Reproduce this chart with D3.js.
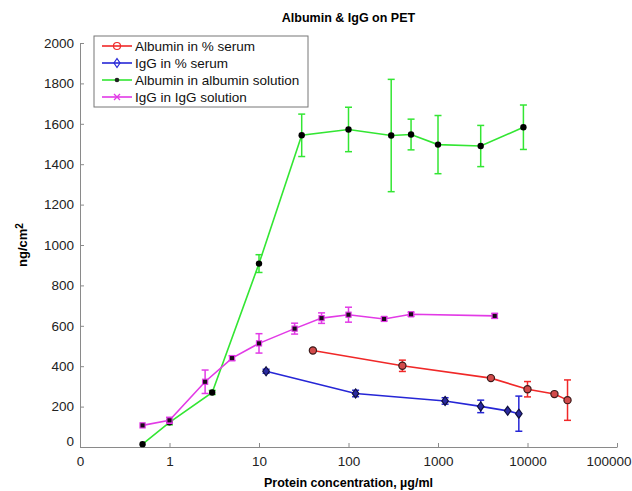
<!DOCTYPE html>
<html>
<head>
<meta charset="utf-8">
<script src="https://cdn.jsdelivr.net/npm/d3@7"></script>
<style>
  body { margin: 0; background: #fff; }
  text { font-family: "Liberation Sans", Arial, sans-serif; }
</style>
</head>
<body>
<script>
// data (x in ug/ml, y in ng/cm2, err = half bar height)
var albSerumX = [40, 400, 3900, 10000, 20000, 28000];
var albSerumY = [478, 402, 341, 286, 262, 232];
var albSerumErr = [0, 28, 0, 38, 0, 100];

var igSerumX = [12, 120, 1200, 3000, 6000, 8000];
var igSerumY = [375, 265, 228, 201, 179, 165];
var igSerumErr = [10, 16, 16, 31, 0, 87];

var albSolX = [0.5, 1, 3, 10, 30, 100, 300, 500, 1000, 3000, 9000];
var albSolY = [14, 122, 270, 908, 1543, 1572, 1542, 1547, 1497, 1490, 1583];
var albSolErr = [0, 12, 10, 44, 105, 110, 278, 76, 144, 102, 110];

var igSolX = [0.5, 1, 2.5, 5, 10, 25, 50, 100, 250, 500, 4300];
var igSolY = [107, 132, 323, 440, 513, 586, 638, 655, 634, 657, 649];
var igSolErr = [0, 15, 58, 12, 48, 27, 26, 37, 10, 10, 12];

var xTicks = [0.1, 1, 10, 100, 1000, 10000, 100000];
var xTickLabels = ["0", "1", "10", "100", "1000", "10000", "100000"];
var yTicks = [0, 200, 400, 600, 800, 1000, 1200, 1400, 1600, 1800, 2000];

var seriesNames = ["Albumin in % serum", "IgG in % serum", "Albumin in albumin solution", "IgG in IgG solution"];

var width = 632, height = 491;
var margin = {top: 43, right: 15, bottom: 44, left: 80};

var svg = d3.select("body").append("svg")
  .attr("width", width)
  .attr("height", height);

svg.append("rect").attr("width", width).attr("height", height).attr("fill", "#fff");

var x = d3.scaleLog()
  .domain([0.1, 100000])
  .range([margin.left, width - margin.right]);

var y = d3.scaleLinear()
  .domain([0, 2000])
  .range([height - margin.bottom, margin.top]);

// axes, ticks pointing inward like matlab
var xAxis = svg.append("g")
  .attr("transform", "translate(0," + (height - margin.bottom) + ")")
  .call(d3.axisBottom(x).tickValues(xTicks)
    .tickFormat(function (d, i) { return xTickLabels[i]; })
    .tickSizeInner(-4).tickSizeOuter(0).tickPadding(9));

var yAxis = svg.append("g")
  .attr("transform", "translate(" + margin.left + ",0)")
  .call(d3.axisLeft(y).tickValues(yTicks)
    .tickFormat(d3.format("d"))
    .tickSizeInner(-4).tickSizeOuter(0).tickPadding(6));

[xAxis, yAxis].forEach(function (a) {
  a.select(".domain").attr("stroke", "#8a8a8a");
  a.selectAll(".tick line").attr("stroke", "#8a8a8a");
  a.selectAll(".tick text").attr("fill", "#222").attr("font-size", 13.5)
    .style("font-family", "Liberation Sans, Arial, sans-serif");
});
// matlab puts the zero labels off the corner
yAxis.selectAll(".tick text").filter(function (d) { return d === 0; }).attr("dy", "-0.1em");
// last x label sits against the right edge of the figure
xAxis.selectAll(".tick text").filter(function (d) { return d === 100000; })
  .attr("text-anchor", "end").attr("x", width - 1 - x(100000));

svg.append("text")
  .attr("x", (margin.left + width - margin.right) / 2)
  .attr("y", 22)
  .attr("text-anchor", "middle")
  .attr("font-size", 12.5)
  .attr("font-weight", "bold")
  .text("Albumin & IgG on PET");

svg.append("text")
  .attr("x", (margin.left + width - margin.right) / 2)
  .attr("y", 487)
  .attr("text-anchor", "middle")
  .attr("font-size", 12.5)
  .attr("font-weight", "bold")
  .text("Protein concentration, \u00b5g/ml");

var yl = svg.append("text")
  .attr("transform", "translate(27," + y(1000) + ") rotate(-90)")
  .attr("text-anchor", "middle")
  .attr("font-size", 13)
  .attr("font-weight", "bold");
yl.append("tspan").text("ng/cm");
yl.append("tspan").attr("dy", "-0.45em").attr("font-size", 10).text("2");

function makeSeries(xs, ys, errs) {
  return xs.map(function (v, i) { return {x: v, y: ys[i], e: errs[i]}; });
}

var series = [
  {data: makeSeries(albSerumX, albSerumY, albSerumErr), color: "#f02828", marker: "circle"},
  {data: makeSeries(igSerumX, igSerumY, igSerumErr), color: "#2626d6", marker: "diamond"},
  {data: makeSeries(albSolX, albSolY, albSolErr), color: "#33e633", marker: "dot"},
  {data: makeSeries(igSolX, igSolY, igSolErr), color: "#e23ae6", marker: "square"}
];

var line = d3.line()
  .x(function (d) { return x(d.x); })
  .y(function (d) { return y(d.y); });

series.forEach(function (s) {
  var g = svg.append("g");
  g.append("path")
    .datum(s.data)
    .attr("d", line)
    .attr("fill", "none")
    .attr("stroke", s.color)
    .attr("stroke-width", 1.6);

  var eb = g.selectAll(".err")
    .data(s.data.filter(function (d) { return d.e > 0; }))
    .enter().append("g");
  eb.append("line")
    .attr("x1", function (d) { return x(d.x); })
    .attr("x2", function (d) { return x(d.x); })
    .attr("y1", function (d) { return y(d.y - d.e); })
    .attr("y2", function (d) { return y(d.y + d.e); })
    .attr("stroke", s.color).attr("stroke-width", 1.5);
  [-1, 1].forEach(function (sgn) {
    eb.append("line")
      .attr("x1", function (d) { return x(d.x) - 3.5; })
      .attr("x2", function (d) { return x(d.x) + 3.5; })
      .attr("y1", function (d) { return y(d.y + sgn * d.e); })
      .attr("y2", function (d) { return y(d.y + sgn * d.e); })
      .attr("stroke", s.color).attr("stroke-width", 1.5);
  });

  var m = g.selectAll(".mk").data(s.data).enter();
  if (s.marker === "circle") {
    m.append("circle")
      .attr("cx", function (d) { return x(d.x); })
      .attr("cy", function (d) { return y(d.y); })
      .attr("r", 3.6)
      .attr("fill", "#d24a4a").attr("stroke", "#3a1a1a").attr("stroke-width", 1.2);
  } else if (s.marker === "diamond") {
    m.append("path")
      .attr("d", function (d) {
        var cx = x(d.x), cy = y(d.y);
        return "M" + cx + "," + (cy - 4.5) + "L" + (cx + 3.3) + "," + cy + "L" + cx + "," + (cy + 4.5) + "L" + (cx - 3.3) + "," + cy + "Z";
      })
      .attr("fill", "#2a2aa0").attr("stroke", "#101040").attr("stroke-width", 1.2);
  } else if (s.marker === "dot") {
    m.append("circle")
      .attr("cx", function (d) { return x(d.x); })
      .attr("cy", function (d) { return y(d.y); })
      .attr("r", 3.2)
      .attr("fill", "#000");
  } else {
    m.append("rect")
      .attr("x", function (d) { return x(d.x) - 2.6; })
      .attr("y", function (d) { return y(d.y) - 2.6; })
      .attr("width", 5.2).attr("height", 5.2)
      .attr("fill", "#1a0a1a").attr("stroke", s.color).attr("stroke-width", 1.1);
  }
});

// legend
var lg = svg.append("g").attr("transform", "translate(94,36)");
lg.append("rect")
  .attr("width", 214).attr("height", 71)
  .attr("fill", "#fff").attr("stroke", "#777").attr("stroke-width", 1);

seriesNames.forEach(function (name, i) {
  var s = series[i];
  var ry = 10 + i * 17;
  lg.append("line")
    .attr("x1", 8).attr("x2", 38).attr("y1", ry).attr("y2", ry)
    .attr("stroke", s.color).attr("stroke-width", 1.6);
  if (s.marker === "circle") {
    lg.append("circle").attr("cx", 23).attr("cy", ry).attr("r", 3.5)
      .attr("fill", "none").attr("stroke", s.color).attr("stroke-width", 1.2);
  } else if (s.marker === "diamond") {
    lg.append("path")
      .attr("d", "M23," + (ry - 4.5) + "L26," + ry + "L23," + (ry + 4.5) + "L20," + ry + "Z")
      .attr("fill", "none").attr("stroke", s.color).attr("stroke-width", 1.2);
  } else if (s.marker === "dot") {
    lg.append("circle").attr("cx", 23).attr("cy", ry).attr("r", 2.3).attr("fill", "#222");
  } else {
    lg.append("path")
      .attr("d", "M20," + (ry - 3) + "L26," + (ry + 3) + "M20," + (ry + 3) + "L26," + (ry - 3))
      .attr("stroke", s.color).attr("stroke-width", 1.3);
  }
  lg.append("text")
    .attr("x", 41).attr("y", ry + 5)
    .attr("font-size", 13.5).attr("fill", "#111")
    .text(name);
});
</script>
</body>
</html>
